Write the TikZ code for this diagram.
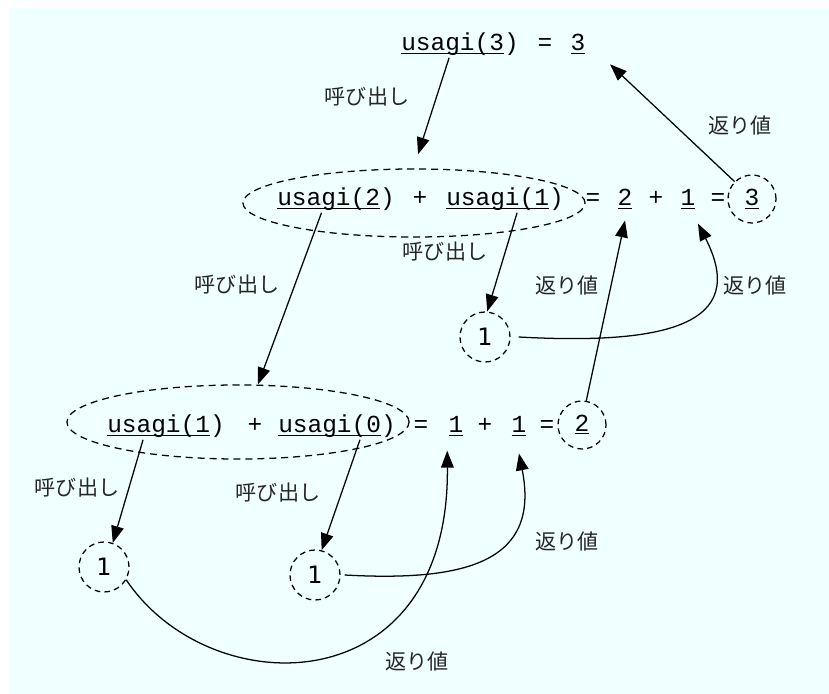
\documentclass[tikz,border=0pt]{standalone}
\usepackage{fontspec}
\setmonofont{Liberation Mono}
\setsansfont{DejaVu Sans}
\newfontfamily\jpfont{Noto Sans CJK JP}
\usetikzlibrary{arrows.meta,shapes.geometric,calc}
\definecolor{bgcyan}{HTML}{F0FFFF}
\newcommand\undl[1]{\underline{\smash{#1}}}

\begin{document}
\begin{tikzpicture}[x=0.025cm, y=-0.025cm,
    tok/.style={anchor=base, font=\ttfamily\fontsize{17.4}{20}\selectfont, inner sep=1pt},
    res/.style={tok, anchor=center, circle, draw, dsh, line width=0.9pt, minimum size=1.2cm},
    leaf/.style={circle, draw, dsh, line width=0.9pt, minimum size=1.25cm, inner sep=0pt, font=\sffamily\fontsize{17}{20}\selectfont},
    grp/.style={ellipse, draw, line width=0.9pt, dash pattern=on 5pt off 3.5pt, inner sep=0pt},
    dsh/.style={dash pattern=on 4pt off 3pt},
    lbl/.style={font=\jpfont\fontsize{15}{18}\selectfont, text=black!85},
    arr/.style={-{Triangle[length=12pt, width=9pt]}, line width=0.9pt}
]
\fill[bgcyan] (9,8) rectangle (829,694);
\useasboundingbox (0,0) rectangle (829,694);

\node[grp, minimum width=8.55cm, minimum height=1.7cm] (mgrp) at (414,203) {};
\node[grp, minimum width=8.55cm, minimum height=1.85cm] (bgrp) at (238,422) {};

\node[tok] (top) at (460,51) {\undl{usagi(3})};
\node[tok] (topeq) at (545,51) {=};
\node[tok] (topval) at (578,51) {\undl{3}};

\node[tok] (mA) at (336,206) {\undl{usagi(2})};
\node[tok] (mplus) at (420,206) {+};
\node[tok] (mB) at (505,206) {\undl{usagi(1})};
\node[tok] (meq) at (593,206) {=};
\node[tok] (ma) at (625,206) {\undl{2}};
\node[tok] (mp) at (656,206) {+};
\node[tok] (mb) at (688,206) {\undl{1}};
\node[tok] (meq2) at (718,206) {=};
\node[res] (mres) at (752,199) {\underline{3}};

\node[tok] (bA) at (166,433) {\undl{usagi(1})};
\node[tok] (bplus) at (255,433) {+};
\node[tok] (bB) at (337,433) {\undl{usagi(0})};
\node[tok] (beq) at (421,433) {=};
\node[tok] (ba) at (456,433) {\undl{1}};
\node[tok] (bp) at (485,433) {+};
\node[tok] (bb) at (519,433) {\undl{1}};
\node[tok] (beq2) at (547,433) {=};
\node[res] (bres) at (582,425) {\underline{2}};

\node[leaf] (mleaf) at (485,337) {1};
\node[leaf] (bleafA) at (104,567) {1};
\node[leaf] (bleafB) at (315,575) {1};

\node[lbl] (lcallT) at (367,97) {呼び出し};
\node[lbl] (lretT) at (740,125) {返り値};
\node[lbl] (lcallA) at (237,285) {呼び出し};
\node[lbl] (lcallB) at (445,252) {呼び出し};
\node[lbl] (lretA) at (567,285) {返り値};
\node[lbl] (lretB) at (755,285) {返り値};
\node[lbl] (lcallC) at (77,488) {呼び出し};
\node[lbl] (lcallD) at (278,493) {呼び出し};
\node[lbl] (lretC) at (567,541) {返り値};
\node[lbl] (lretD) at (417,661) {返り値};

\draw[arr] ($(top.south west)!0.41!(top.south east)$) -- ([xshift=0.1cm, yshift=0.35cm]mgrp.north);
\draw[arr] (mres.135) -- ([xshift=0.8cm, yshift=-0.22cm]topval.south);
\draw[arr] ($(mA.south west)!0.38!(mA.south east)$) -- ([xshift=0.5cm]bgrp.north);
\draw[arr] ($(mB.south west)!0.6!(mB.south east)$) -- (mleaf.85);
\draw[arr] (bres.80) -- ([yshift=-0.25cm]ma.south);
\draw[arr] ([xshift=0.2cm]mleaf.east) .. controls (665,345) and (750,325) .. ([xshift=0.25cm, yshift=-0.33cm]mb.south);
\draw[arr] ($(bA.south west)!0.31!(bA.south east)$) -- (bleafA.70);
\draw[arr] ($(bB.south west)!0.69!(bB.south east)$) -- (bleafB.75);
\draw[arr] ([xshift=0.1cm]bleafB.east) .. controls (470,582) and (540,560) .. ([yshift=-0.4cm]bb.south);
\draw[arr] (bleafA.-30) .. controls (210,705) and (450,705) .. ([xshift=-0.22cm, yshift=-0.33cm]ba.south);
\end{tikzpicture}
\end{document}
